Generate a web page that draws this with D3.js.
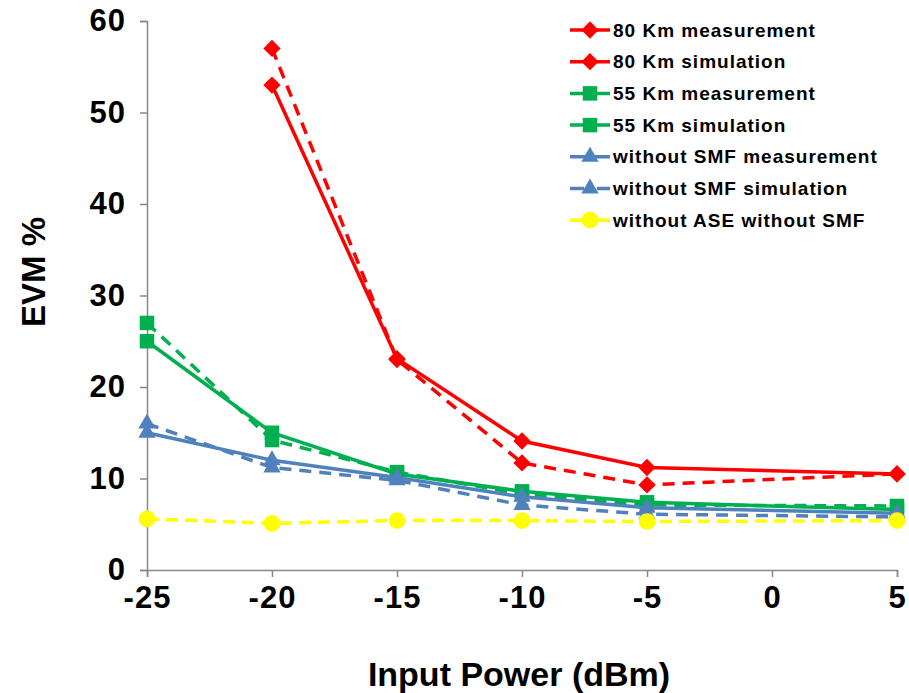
<!DOCTYPE html>
<html>
<head>
<meta charset="utf-8">
<script src="https://cdnjs.cloudflare.com/ajax/libs/d3/7.8.5/d3.min.js"></script>
<style>
  body { margin: 0; background: #fff; }
  svg { display: block; font-family: Arial, "Liberation Sans", sans-serif; }
</style>
</head>
<body>
<svg id="graph" width="909" height="693"></svg>
<script>
/*globals d3*/
// x values (dBm)
var power = [-25, -20, -15, -10, -5, 5];
var powerTicks = [-25, -20, -15, -10, -5, 0, 5];
var evmTicks = [0, 10, 20, 30, 40, 50, 60];

// EVM % (null = no point)
var km80Meas = [null, 53, 23.1, 14.1, 11.2, 10.5];
var km80Sim = [null, 57, 23.0, 11.7, 9.3, 10.5];
var km55Meas = [25, 15, 10.5, 8.6, 7.4, 6.6];
var km55Sim = [27, 14.2, 10.7, 8.3, 7.1, 7.0];
var noSmfMeas = [15, 12, 10.1, 8.0, 6.8, 6.2];
var noSmfSim = [16, 11.2, 9.8, 7.1, 6.1, 5.8];
var noAseNoSmf = [5.6, 5.1, 5.4, 5.4, 5.3, 5.4];

var seriesNames = ["80 Km measurement", "80 Km simulation", "55 Km measurement", "55 Km simulation",
  "without SMF measurement", "without SMF simulation", "without ASE without SMF"];

var series = [
  {name: seriesNames[0], values: km80Meas, color: "#ff0000", dash: null, shape: "diamond"},
  {name: seriesNames[1], values: km80Sim, color: "#ff0000", dash: "12,8", shape: "diamond"},
  {name: seriesNames[2], values: km55Meas, color: "#00b050", dash: null, shape: "square"},
  {name: seriesNames[3], values: km55Sim, color: "#00b050", dash: "12,8", shape: "square"},
  {name: seriesNames[4], values: noSmfMeas, color: "#4f81bd", dash: null, shape: "triangle"},
  {name: seriesNames[5], values: noSmfSim, color: "#4f81bd", dash: "12,8", shape: "triangle"},
  {name: seriesNames[6], values: noAseNoSmf, color: "#ffff00", dash: "12,7", shape: "circle"}
];

var svg = d3.select("svg");
var margin = {left: 147, right: 12, top: 21, bottom: 123};
var width = 909 - margin.left - margin.right,
    height = 693 - margin.top - margin.bottom;

var x = d3.scaleLinear().domain([-25, 5]).range([0, 750]);
var y = d3.scaleLinear().domain([0, 60]).range([height, 0]);

var g = svg.append("g").attr("transform", "translate(" + margin.left + "," + margin.top + ")");

// axes
var xAxis = g.append("g")
  .attr("transform", "translate(0," + height + ")")
  .call(d3.axisBottom(x).tickValues(powerTicks).tickSize(7).tickPadding(9).tickFormat(d3.format("d")));
var yAxis = g.append("g")
  .call(d3.axisLeft(y).tickValues(evmTicks).tickSize(7).tickPadding(14));

[xAxis, yAxis].forEach(function(a) {
  a.select(".domain").attr("stroke", "#888").attr("stroke-width", 1.5);
  a.selectAll(".tick line").attr("stroke", "#888").attr("stroke-width", 1.5);
  a.selectAll(".tick text")
    .attr("fill", "#000")
    .style("font-size", "31px")
    .style("font-weight", "bold")
    .style("letter-spacing", "1px");
});
// replace the unicode minus with plain hyphen like the original
xAxis.selectAll(".tick text").text(function(d) { return String(d); });

// axis titles
svg.append("text")
  .attr("x", 519).attr("y", 686)
  .attr("text-anchor", "middle")
  .style("font-size", "34px").style("font-weight", "bold")
  .text("Input Power (dBm)");
svg.append("text")
  .attr("transform", "translate(45,272) rotate(-90)")
  .attr("text-anchor", "middle")
  .style("font-size", "33px").style("font-weight", "bold")
  .text("EVM %");

function symbolPath(shape) {
  if (shape == "diamond") return d3.symbol().type(d3.symbolSquare).size(150)();
  if (shape == "square") return d3.symbol().type(d3.symbolSquare).size(210)();
  if (shape == "triangle") return d3.symbol().type(d3.symbolTriangle).size(130)();
  return d3.symbol().type(d3.symbolCircle).size(220)();
}
function symbolRotate(shape) {
  return shape == "diamond" ? " rotate(45)" : "";
}

var line = d3.line()
  .defined(function(d) { return d[1] != null; })
  .x(function(d) { return x(d[0]); })
  .y(function(d) { return y(d[1]); });

series.forEach(function(s) {
  var pts = power.map(function(p, i) { return [p, s.values[i]]; });
  g.append("path")
    .datum(pts)
    .attr("fill", "none")
    .attr("stroke", s.color)
    .attr("stroke-width", 3.5)
    .attr("stroke-dasharray", s.dash)
    .attr("d", line);
  g.selectAll(null)
    .data(pts.filter(function(d) { return d[1] != null; }))
    .enter().append("path")
    .attr("d", symbolPath(s.shape))
    .attr("fill", s.color)
    .attr("transform", function(d) { return "translate(" + x(d[0]) + "," + y(d[1]) + ")" + symbolRotate(s.shape); });
});

// legend
var legend = svg.append("g").attr("transform", "translate(570,30)");
var row = legend.selectAll("g.row")
  .data(series)
  .enter().append("g")
  .attr("class", "row")
  .attr("transform", function(d, i) { return "translate(0," + (i * 31.7) + ")"; });
row.append("line")
  .attr("x1", 0).attr("x2", 40)
  .attr("stroke", function(d) { return d.color; })
  .attr("stroke-width", 3.5)
  .attr("stroke-dasharray", function(d) { return d.dash ? "14,13,13" : null; });
row.append("path")
  .attr("d", function(d) { return symbolPath(d.shape); })
  .attr("fill", function(d) { return d.color; })
  .attr("transform", function(d) { return "translate(20,0)" + symbolRotate(d.shape); });
row.append("text")
  .attr("x", 43).attr("dy", "0.35em")
  .style("font-size", "19px").style("font-weight", "bold")
  .style("letter-spacing", "1px")
  .text(function(d) { return d.name; });
</script>
</body>
</html>
